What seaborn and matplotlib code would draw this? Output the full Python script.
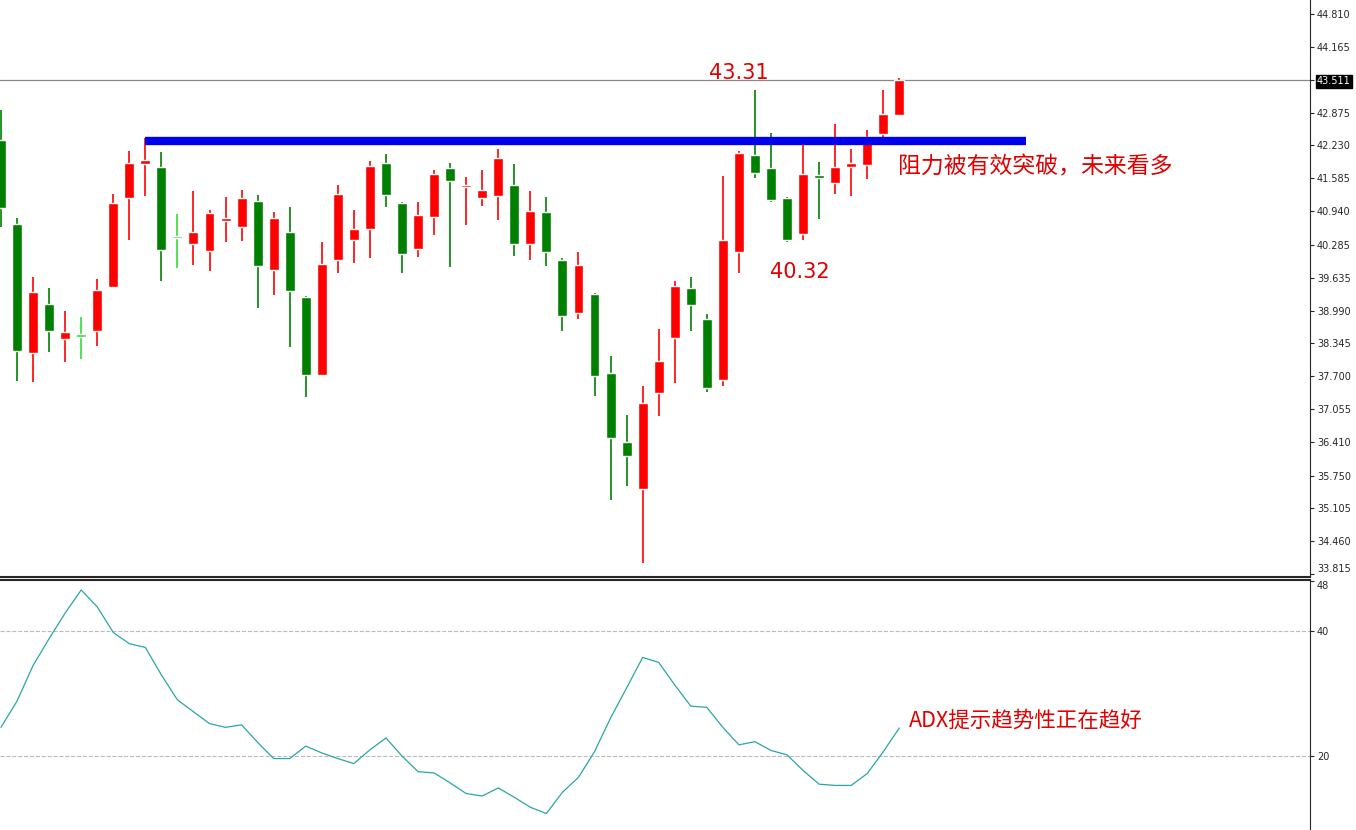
import matplotlib
matplotlib.use("Agg")
import matplotlib.pyplot as plt
import seaborn as sns
import numpy as np
import pandas as pd

sns.set_style("white")
plt.rcParams['font.family'] = ['Noto Sans CJK SC', 'DejaVu Sans']

opens = [42.34,40.69,38.15,39.12,38.43,38.47,38.59,39.45,41.20,41.86,41.81,40.41,40.29,40.16,40.75,40.63,41.14,39.79,40.53,39.25,
         37.72,39.98,40.37,40.59,41.88,41.10,40.19,40.82,41.79,41.41,41.20,41.24,41.45,40.29,40.92,39.98,38.94,39.31,37.76,36.41,
         35.48,37.37,38.45,39.43,38.82,37.62,40.14,42.04,41.79,41.20,40.49,41.62,41.49,41.81,41.85,42.45,42.83]
highs = [42.93,40.80,39.65,39.43,38.98,38.86,39.61,41.28,42.12,42.37,42.10,40.88,41.34,40.96,41.22,41.35,41.26,40.92,41.02,39.27,
         40.33,41.45,40.96,41.92,42.06,41.12,41.12,41.75,41.88,41.61,41.75,42.16,41.86,41.34,41.22,40.02,40.14,39.33,38.09,36.94,
         37.51,38.63,39.57,39.65,38.92,41.63,42.12,43.32,42.47,41.22,42.36,41.90,42.65,42.16,42.53,43.32,43.55]
lows = [40.63,37.60,37.59,38.17,37.98,38.04,38.29,39.43,40.37,41.24,39.57,39.82,39.88,39.76,40.33,40.35,39.04,39.29,38.27,37.29,
        37.70,39.72,39.92,40.02,41.02,39.72,40.04,40.47,39.84,40.67,41.04,40.77,40.06,39.98,39.86,38.59,38.82,37.31,35.27,35.54,
        34.03,36.92,37.56,38.59,37.39,37.50,39.72,41.59,41.12,40.33,40.37,40.78,41.27,41.24,41.57,42.28,42.81]
closes = [41.00,38.19,39.35,38.59,38.57,38.47,39.39,41.10,41.88,41.94,40.18,40.41,40.53,40.90,40.80,41.20,39.86,40.80,39.37,37.72,
          39.90,41.28,40.59,41.83,41.26,40.10,40.86,41.67,41.53,41.43,41.35,41.98,40.29,40.94,40.14,38.88,39.88,37.70,36.48,36.13,
          37.17,38.00,39.47,39.10,37.47,40.37,42.08,41.69,41.16,40.37,41.67,41.60,41.81,41.88,42.40,42.85,43.51]
adx = [24.6,28.8,34.5,38.8,42.9,46.6,43.9,39.8,38.0,37.4,33.0,29.0,27.1,25.2,24.6,25.0,22.2,19.6,19.6,21.6,
       20.5,19.6,18.8,21.0,22.9,20.0,17.5,17.3,15.7,14.0,13.6,14.9,13.4,11.8,10.8,14.2,16.6,20.7,26.1,30.9,
       35.8,35.0,31.4,28.0,27.8,24.6,21.8,22.3,20.9,20.2,17.7,15.5,15.3,15.3,17.2,20.7,24.5]
price_ticks = [44.810,44.165,43.511,42.875,42.230,41.585,40.940,40.285,39.635,38.990,38.345,37.700,37.055,36.410,35.750,35.105,34.460,33.815]
adx_ticks = [48, 40, 20]
resistance = 42.32
last_price = 43.511

idx = np.arange(len(opens))
df = pd.DataFrame({"i": idx, "o": opens, "h": highs, "l": lows, "c": closes, "adx": adx})

W, H = 1356, 830
fig = plt.figure(figsize=(W/100, H/100), dpi=100)
ax = fig.add_axes([0, 1-577/H, 1310/W, 577/H])
ax2 = fig.add_axes([0, 0, 1310/W, 250/H])

RED, GREEN, LIME = '#ff0000', '#008000', '#33dd33'
for r in df.itertuples():
    if abs(r.c - r.o) < 0.03:
        col = LIME if r.i in (5, 11) else (RED if r.c >= r.o else GREEN)
    else:
        col = RED if r.c > r.o else GREEN
    ax.vlines(r.i, r.l, r.h, color=col, lw=1.2, zorder=2)
    bot, top = min(r.o, r.c), max(r.o, r.c)
    ax.bar(r.i, max(top-bot, 0.05), bottom=bot, width=0.62, color=col, zorder=3)

xl = (-0.06, 81.6)
ax.set_xlim(*xl)
ax.set_ylim(33.76, 45.085)
ax.hlines(resistance, 9, 63.9, color='#0000ee', lw=6, zorder=4)
ax.axhline(last_price, color='#888888', lw=0.9, zorder=1)
ax.yaxis.tick_right()
ax.set_yticks(price_ticks)
ax.set_yticklabels([f"{t:.3f}" for t in price_ticks], fontsize=7, family='DejaVu Sans')
ax.tick_params(axis='y', length=3, pad=2)
ax.set_xticks([])
for s in ['top', 'left']:
    ax.spines[s].set_visible(False)
ax.spines['bottom'].set_linewidth(1.5)
for lab in ax.get_yticklabels():
    if lab.get_text() == "43.511":
        lab.set_color('white')
        lab.set_bbox(dict(facecolor='black', edgecolor='black', pad=1))
    if lab.get_text() == "33.815":
        lab.set_va('bottom')

ax.text(46.0, 43.45, "43.31", color='#e00000', fontsize=15, ha='center', va='bottom', family='DejaVu Sans')
ax.text(49.8, 39.75, "40.32", color='#e00000', fontsize=15, ha='center', va='center', family='DejaVu Sans')
ax.text(55.9, 41.8, "阻力被有效突破，未来看多", color='#e00000', fontsize=16.5, ha='left', va='center')

sns.lineplot(data=df, x="i", y="adx", ax=ax2, color='#2aa6a6', lw=0.9)
ax2.set_xlim(*xl)
ax2.set_ylim(8.16, 48.2)
for v in (40, 20):
    ax2.axhline(v, color='#bbbbbb', lw=0.8, ls='--', zorder=0)
ax2.yaxis.tick_right()
ax2.set_yticks(adx_ticks)
ax2.set_yticklabels([str(t) for t in adx_ticks], fontsize=7, family='DejaVu Sans')
ax2.tick_params(axis='y', length=3, pad=2)
for lab in ax2.get_yticklabels():
    if lab.get_text() == "48":
        lab.set_va('top')
ax2.set_xticks([])
ax2.set_xlabel("")
ax2.set_ylabel("")
for s in ['bottom', 'left']:
    ax2.spines[s].set_visible(False)
ax2.spines['top'].set_linewidth(1.5)
ax2.text(56.6, 25.7, "ADX提示趋势性正在趋好", color='#e00000', fontsize=15.5, ha='left', va='center')

fig.savefig("out.png", dpi=100)
